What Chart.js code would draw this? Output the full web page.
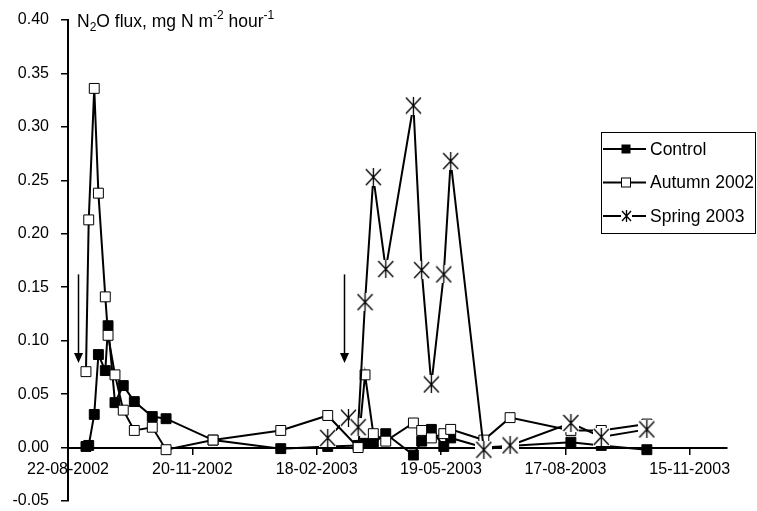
<!DOCTYPE html>
<html>
<head>
<meta charset="utf-8">
<script src="https://cdn.jsdelivr.net/npm/chart.js@4.4.1/dist/chart.umd.min.js"></script>
<style>
  html, body { margin: 0; padding: 0; background: #fff; }
</style>
</head>
<body>
<canvas id="myChart" width="757" height="511"></canvas>
<script>
// dates are dd-mm-yyyy, x axis counts days from the first tick
const tickLabels = ['22-08-2002', '20-11-2002', '18-02-2003', '19-05-2003', '17-08-2003', '15-11-2003'];

const controlDates = ['04-09-2002', '06-09-2002', '10-09-2002', '13-09-2002', '18-09-2002', '20-09-2002',
  '25-09-2002', '01-10-2002', '09-10-2002', '22-10-2002', '01-11-2002', '05-12-2002', '23-01-2003',
  '26-02-2003', '20-03-2003', '25-03-2003', '31-03-2003', '09-04-2003', '29-04-2003', '05-05-2003',
  '12-05-2003', '21-05-2003', '26-05-2003', '19-06-2003', '21-08-2003', '12-09-2003', '15-10-2003'];
const controlValues = [0.001, 0.002, 0.031, 0.087, 0.072, 0.114,
  0.042, 0.058, 0.043, 0.029, 0.027, 0.007, -0.001,
  0.001, 0.002, 0.004, 0.004, 0.013, -0.007, 0.006,
  0.017, 0.001, 0.009, 0.000, 0.005, 0.002, -0.002];

const autumnDates = ['04-09-2002', '06-09-2002', '10-09-2002', '13-09-2002', '18-09-2002', '20-09-2002',
  '25-09-2002', '01-10-2002', '09-10-2002', '22-10-2002', '01-11-2002', '05-12-2002', '23-01-2003',
  '26-02-2003', '20-03-2003', '25-03-2003', '31-03-2003', '09-04-2003', '29-04-2003', '05-05-2003',
  '12-05-2003', '21-05-2003', '26-05-2003', '19-06-2003', '08-07-2003', '21-08-2003', '12-09-2003', '15-10-2003'];
const autumnValues = [0.071, 0.213, 0.336, 0.238, 0.141, 0.105,
  0.068, 0.035, 0.016, 0.019, -0.002, 0.007, 0.016,
  0.030, 0.000, 0.068, 0.013, 0.006, 0.023, 0.016,
  0.009, 0.013, 0.017, 0.007, 0.028, 0.016, 0.016, 0.022];

const springDates = ['26-02-2003', '13-03-2003', '20-03-2003', '25-03-2003', '31-03-2003', '09-04-2003',
  '29-04-2003', '05-05-2003', '12-05-2003', '21-05-2003', '26-05-2003', '19-06-2003', '08-07-2003',
  '21-08-2003', '12-09-2003', '15-10-2003'];
const springValues = [0.009, 0.028, 0.019, 0.136, 0.253, 0.167,
  0.320, 0.166, 0.059, 0.162, 0.268, -0.002, 0.002,
  0.023, 0.010, 0.017];

// arrows marking the application dates
const arrowDates = ['29-08-2002', '10-03-2003'];
const arrowFrom = 0.162;
const arrowTo = 0.079;

const seriesNames = ['Control', 'Autumn 2002', 'Spring 2003'];

function dayOf(s) {
  const p = s.split('-').map(Number);
  const t0 = Date.UTC(2002, 7, 22);
  return Math.round((Date.UTC(p[2], p[1] - 1, p[0]) - t0) / 86400000);
}
function toPoints(dates, values) {
  return dates.map((d, i) => ({ x: dayOf(d), y: values[i] }));
}

const FONT = '"Liberation Sans", Arial, sans-serif';

function makeStar(w, h) {
  const c = document.createElement('canvas');
  c.width = w; c.height = h;
  const g = c.getContext('2d');
  g.fillStyle = '#fff';
  g.fillRect(0, 0, w, h);
  g.strokeStyle = '#000';
  g.lineWidth = 1.3;
  g.beginPath();
  g.moveTo(1, 1); g.lineTo(w - 1, h - 1);
  g.moveTo(w - 1, 1); g.lineTo(1, h - 1);
  const cx = Math.floor(w / 2) + 0.5;
  g.moveTo(cx, 0); g.lineTo(cx, h);
  g.stroke();
  return c;
}
const starMark = makeStar(17, 18);
const starSmall = makeStar(11, 12);

const extras = {
  id: 'extras',
  afterDraw(chart) {
    const ctx = chart.ctx;
    const xs = chart.scales.x, ys = chart.scales.y;
    ctx.save();
    // arrows
    ctx.strokeStyle = '#000';
    ctx.fillStyle = '#000';
    ctx.lineWidth = 1.5;
    arrowDates.forEach(d => {
      const x = Math.round(xs.getPixelForValue(dayOf(d))) + 0.5;
      const y1 = ys.getPixelForValue(arrowFrom);
      const y2 = ys.getPixelForValue(arrowTo);
      ctx.beginPath();
      ctx.moveTo(x, y1); ctx.lineTo(x, y2 - 9);
      ctx.stroke();
      ctx.beginPath();
      ctx.moveTo(x - 4.5, y2 - 10); ctx.lineTo(x + 4.5, y2 - 10); ctx.lineTo(x, y2);
      ctx.closePath(); ctx.fill();
    });

    // axis title with sub/superscripts
    const parts = [
      ['N', 0], ['2', 1], ['O flux, mg N m', 0], ['-2', -1], [' hour', 0], ['-1', -1]
    ];
    let tx = chart.chartArea.left + 9;
    const base = 27;
    ctx.textBaseline = 'alphabetic';
    ctx.textAlign = 'left';
    parts.forEach(([t, k]) => {
      ctx.font = (k === 0 ? '17.5px ' : '12px ') + FONT;
      const dy = k === 1 ? 4 : (k === -1 ? -8 : 0);
      ctx.fillText(t, tx, base + dy);
      tx += ctx.measureText(t).width;
    });

    // legend
    ctx.lineWidth = 1;
    ctx.strokeRect(601.5, 132.5, 154, 101);
    const rows = [149, 182.5, 216];
    ctx.font = '17.5px ' + FONT;
    ctx.textBaseline = 'middle';
    rows.forEach((ry, i) => {
      ctx.lineWidth = 2;
      ctx.beginPath();
      ctx.moveTo(603, ry); ctx.lineTo(646, ry);
      ctx.stroke();
      const mx = 626;
      if (i === 0) {
        ctx.fillRect(mx - 4.5, ry - 4.5, 9, 9);
      } else if (i === 1) {
        ctx.fillStyle = '#fff';
        ctx.fillRect(mx - 4.5, ry - 4.5, 9, 9);
        ctx.lineWidth = 1;
        ctx.strokeRect(mx - 4.5, ry - 4.5, 9, 9);
        ctx.fillStyle = '#000';
      } else {
        ctx.drawImage(starSmall, mx - 5, ry - 6);
      }
      ctx.fillText(seriesNames[i], 650, ry + 1);
    });
    ctx.restore();
  }
};

const ctx = document.getElementById('myChart').getContext('2d');
const myChart = new Chart(ctx, {
  type: 'line',
  data: {
    datasets: [
      {
        label: seriesNames[0],
        data: toPoints(controlDates, controlValues),
        borderColor: '#000', borderWidth: 2,
        pointStyle: 'rect', pointRadius: 7, pointBorderWidth: 1,
        pointBackgroundColor: '#000', pointBorderColor: '#000',
        order: 3
      },
      {
        label: seriesNames[1],
        data: toPoints(autumnDates, autumnValues),
        borderColor: '#000', borderWidth: 2,
        pointStyle: 'rect', pointRadius: 7, pointBorderWidth: 1,
        pointBackgroundColor: '#fff', pointBorderColor: '#000',
        order: 2
      },
      {
        label: seriesNames[2],
        data: toPoints(springDates, springValues),
        borderColor: '#000', borderWidth: 2,
        pointStyle: starMark, pointRadius: 8,
        order: 1
      }
    ]
  },
  options: {
    responsive: false,
    animation: false,
    devicePixelRatio: 1,
    layout: { padding: { top: 20, right: 30, bottom: 10, left: 0 } },
    elements: { line: { tension: 0 } },
    plugins: { legend: { display: false }, tooltip: { enabled: false } },
    scales: {
      x: {
        type: 'linear',
        position: { y: 0 },
        min: 0,
        max: 477,
        afterBuildTicks: (s) => { s.ticks = tickLabels.map(t => ({ value: dayOf(t) })); },
        afterFit: (s) => { s.paddingTop = 0; s.paddingBottom = 0; s.paddingLeft = 0; s.paddingRight = 0; },
        ticks: {
          callback: (v, i) => tickLabels[i],
          color: '#000', font: { family: FONT, size: 16 },
          padding: 6, maxRotation: 0, autoSkip: false
        },
        grid: { drawOnChartArea: false, drawTicks: true, tickLength: 6, color: '#000', lineWidth: 1.5 },
        border: { display: true, color: '#000', width: 2 }
      },
      y: {
        min: -0.05,
        max: 0.40,
        afterFit: (s) => { s.width = 68; s.paddingTop = 0; s.paddingBottom = 0; },
        ticks: {
          stepSize: 0.05,
          callback: (v) => v.toFixed(2),
          color: '#000', font: { family: FONT, size: 16 },
          padding: 12
        },
        grid: { drawOnChartArea: false, drawTicks: true, tickLength: 7, color: '#000', lineWidth: 1.5 },
        border: { display: true, color: '#000', width: 2 }
      }
    }
  },
  plugins: [extras]
});
</script>
</body>
</html>
